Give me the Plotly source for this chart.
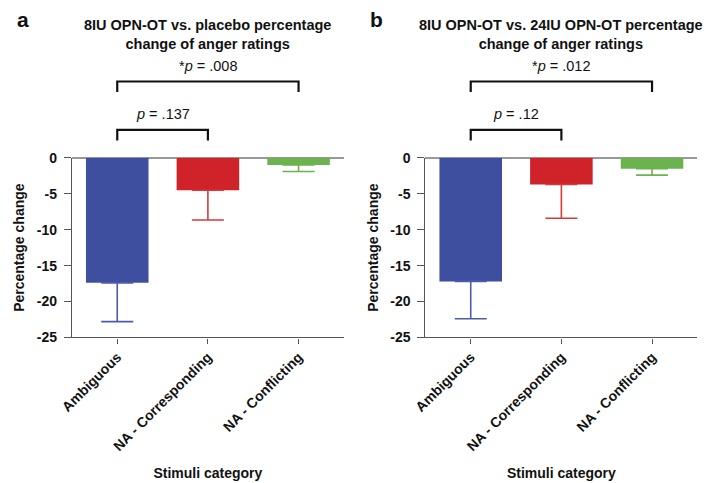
import plotly.graph_objects as go

categories = ["Ambiguous", "NA - Corresponding", "NA - Conflicting"]
values_a = [-17.4, -4.5, -1.0]
errors_a = [5.4, 4.15, 0.9]
values_b = [-17.2, -3.7, -1.5]
errors_b = [5.2, 4.7, 0.9]
bar_colors = ["#3f4f9f", "#cf2229", "#6ab34f"]
err_colors = ["#4c5bab", "#d43a3a", "#6ab34f"]
titles = ["8IU OPN-OT vs. placebo percentage<br>change of anger ratings",
          "8IU OPN-OT vs. 24IU OPN-OT percentage<br>change of anger ratings"]
panel_labels = ["a", "b"]
p_small = ["<i>p</i> = .137", "<i>p</i> = .12"]
p_big = ["*<i>p</i> = .008", "*<i>p</i> = .012"]
yticks = [0, -5, -10, -15, -20, -25]

FONT = "Arial, Liberation Sans, sans-serif"
W, H = 718, 483

def py(px):
    return 1 - px / H

fig = go.Figure()
xdoms = [[60 / W, 337 / W], [420 / W, 697 / W]]
ydom = [py(340.7), py(155)]

for k, (vals, errs) in enumerate([(values_a, errors_a), (values_b, errors_b)]):
    xa = "x" if k == 0 else "x2"
    ya = "y" if k == 0 else "y2"
    for i in range(3):
        fig.add_trace(go.Bar(
            x=[i], y=[vals[i]], xaxis=xa, yaxis=ya,
            marker=dict(color=bar_colors[i], line=dict(width=0)),
            width=0.69,
            error_y=dict(type="data", symmetric=False, array=[0], arrayminus=[errs[i]],
                         color=err_colors[i], thickness=1.6, width=16),
            showlegend=False, hoverinfo="skip"))

axis_common = dict(showgrid=False, showline=True, linecolor="#555555", linewidth=1.2,
                   ticks="outside", tickcolor="#555555", tickwidth=1.2,
                   tickfont=dict(family=FONT, size=14, color="#111111"))

for k in range(2):
    sx = "" if k == 0 else "2"
    fig.layout["xaxis" + sx] = dict(
        domain=xdoms[k], anchor="y" + sx, range=[-0.5, 2.5], ticklen=5,
        tickvals=[0, 1, 2], ticktext=["<b>%s</b>" % c for c in categories], tickangle=-45,
        title=dict(text="<b>Stimuli category</b>", font=dict(family=FONT, size=14, color="#111111"), standoff=15),
        **axis_common)
    fig.layout["yaxis" + sx] = dict(
        domain=ydom, anchor="x" + sx, range=[-25, 0], ticklen=7, ticklabelstandoff=4,
        tickvals=yticks, ticktext=["<b>%d</b>" % v for v in yticks],
        zeroline=True, zerolinecolor="#999999", zerolinewidth=1.5,
        title=dict(text="<b>Percentage change</b>", font=dict(family=FONT, size=14, color="#111111"), standoff=8),
        **axis_common)

for k in range(2):
    sx = "" if k == 0 else "2"
    xr = "x" + sx
    xmid = (xdoms[k][0] + xdoms[k][1]) / 2
    fig.add_annotation(text="<b>%s</b>" % titles[k], xref="paper", yref="paper",
                       x=xmid, y=py(27.5), xanchor="center", yanchor="middle", showarrow=False,
                       font=dict(family=FONT, size=14.5, color="#111111"), align="center")
    fig.add_annotation(text="<b>%s</b>" % panel_labels[k], xref="paper", yref="paper",
                       x=(10 if k == 0 else 370) / W, y=py(12), xanchor="center", yanchor="middle",
                       showarrow=False, font=dict(family=FONT, size=21, color="#111111"))
    # brackets
    for (x0, x1, ytop, ybot, txt, ytxt) in [(0, 2, 76, 87, p_big[k], 60), (0, 1, 126, 137, p_small[k], 110)]:
        fig.add_shape(type="path", xref=xr, yref="paper",
                      path="M %g,%g L %g,%g L %g,%g L %g,%g" % (x0, py(ybot), x0, py(ytop), x1, py(ytop), x1, py(ybot)),
                      line=dict(color="#111111", width=2.2))
        fig.add_annotation(text=txt, xref=xr, yref="paper", x=(x0 + x1) / 2, y=py(ytxt),
                           xanchor="center", yanchor="middle",
                           showarrow=False, font=dict(family=FONT, size=14.5, color="#111111"))

fig.update_layout(width=W, height=H, margin=dict(l=0, r=0, t=0, b=0),
                  plot_bgcolor="white", paper_bgcolor="white", bargap=0.31)
fig.write_html("out.html", post_script="document.body.style.margin='0';",
               config={"displayModeBar": False})
